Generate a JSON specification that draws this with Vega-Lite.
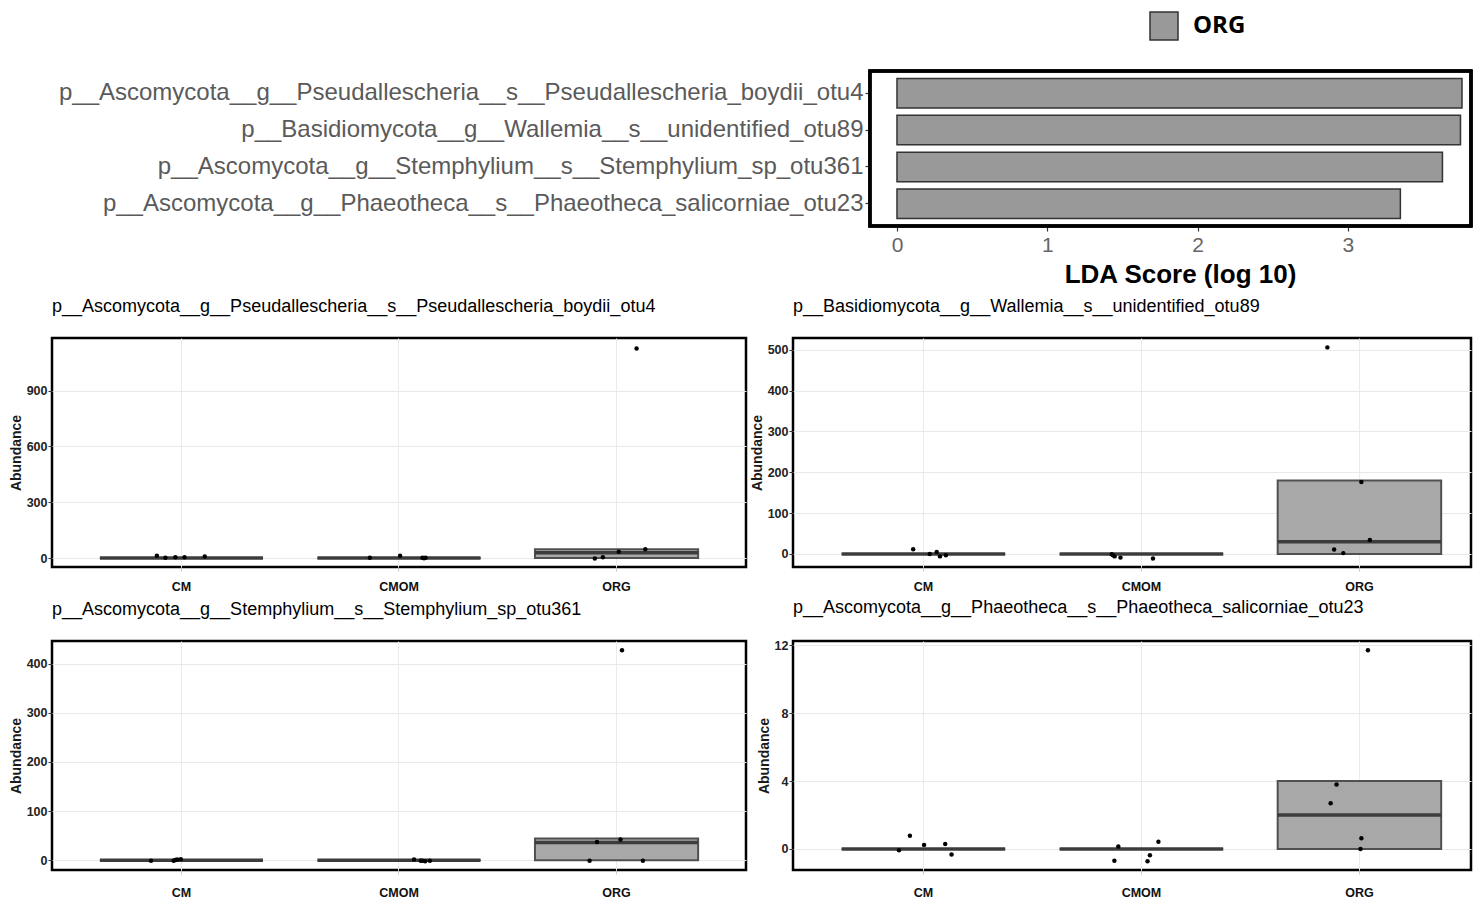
{
  "$schema": "https://vega.github.io/schema/vega-lite/v6.json",
  "background": "white",
  "padding": {"left": 7, "top": 11, "right": 0, "bottom": 0},
  "bounds": "flush",
  "columns": 2,
  "align": "each",
  "spacing": {"row": 74, "column": 47},
  "config": {
    "font": "Liberation Sans",
    "view": {"stroke": "black", "strokeWidth": 2.5}
  },
  "datasets": {
    "lda": [
      {"feature": "p__Ascomycota__g__Pseudallescheria__s__Pseudallescheria_boydii_otu4", "lda": 3.76, "group": "ORG"},
      {"feature": "p__Basidiomycota__g__Wallemia__s__unidentified_otu89", "lda": 3.75, "group": "ORG"},
      {"feature": "p__Ascomycota__g__Stemphylium__s__Stemphylium_sp_otu361", "lda": 3.63, "group": "ORG"},
      {"feature": "p__Ascomycota__g__Phaeotheca__s__Phaeotheca_salicorniae_otu23", "lda": 3.35, "group": "ORG"}
    ],
    "boxes": [
      {"otu": "otu4", "treatment": "CM", "q1": 0, "median": 0, "q3": 0},
      {"otu": "otu4", "treatment": "CMOM", "q1": 0, "median": 0, "q3": 0},
      {"otu": "otu4", "treatment": "ORG", "q1": 0, "median": 28, "q3": 47},
      {"otu": "otu89", "treatment": "CM", "q1": 0, "median": 0, "q3": 0},
      {"otu": "otu89", "treatment": "CMOM", "q1": 0, "median": 0, "q3": 0},
      {"otu": "otu89", "treatment": "ORG", "q1": 0, "median": 30, "q3": 180},
      {"otu": "otu361", "treatment": "CM", "q1": 0, "median": 0, "q3": 0},
      {"otu": "otu361", "treatment": "CMOM", "q1": 0, "median": 0, "q3": 0},
      {"otu": "otu361", "treatment": "ORG", "q1": 0, "median": 36, "q3": 44},
      {"otu": "otu23", "treatment": "CM", "q1": 0, "median": 0, "q3": 0},
      {"otu": "otu23", "treatment": "CMOM", "q1": 0, "median": 0, "q3": 0},
      {"otu": "otu23", "treatment": "ORG", "q1": 0, "median": 2, "q3": 4}
    ],
    "samples": [
      {"otu": "otu4", "treatment": "CM", "jitter": -0.113, "abundance": 12},
      {"otu": "otu4", "treatment": "CM", "jitter": -0.074, "abundance": 2},
      {"otu": "otu4", "treatment": "CM", "jitter": -0.028, "abundance": 4},
      {"otu": "otu4", "treatment": "CM", "jitter": 0.014, "abundance": 5},
      {"otu": "otu4", "treatment": "CM", "jitter": 0.107, "abundance": 9},
      {"otu": "otu4", "treatment": "CMOM", "jitter": -0.134, "abundance": 2},
      {"otu": "otu4", "treatment": "CMOM", "jitter": 0.005, "abundance": 12},
      {"otu": "otu4", "treatment": "CMOM", "jitter": 0.108, "abundance": 2},
      {"otu": "otu4", "treatment": "CMOM", "jitter": 0.115, "abundance": -1},
      {"otu": "otu4", "treatment": "CMOM", "jitter": 0.122, "abundance": 2},
      {"otu": "otu4", "treatment": "ORG", "jitter": -0.1, "abundance": -2},
      {"otu": "otu4", "treatment": "ORG", "jitter": -0.063, "abundance": 4},
      {"otu": "otu4", "treatment": "ORG", "jitter": 0.01, "abundance": 34},
      {"otu": "otu4", "treatment": "ORG", "jitter": 0.132, "abundance": 47},
      {"otu": "otu4", "treatment": "ORG", "jitter": 0.092, "abundance": 1127},
      {"otu": "otu89", "treatment": "CM", "jitter": -0.047, "abundance": 11.5},
      {"otu": "otu89", "treatment": "CM", "jitter": 0.029, "abundance": 0},
      {"otu": "otu89", "treatment": "CM", "jitter": 0.061, "abundance": 5},
      {"otu": "otu89", "treatment": "CM", "jitter": 0.076, "abundance": -6},
      {"otu": "otu89", "treatment": "CM", "jitter": 0.103, "abundance": -3},
      {"otu": "otu89", "treatment": "CMOM", "jitter": -0.136, "abundance": -1},
      {"otu": "otu89", "treatment": "CMOM", "jitter": -0.13, "abundance": -3},
      {"otu": "otu89", "treatment": "CMOM", "jitter": -0.123, "abundance": -6},
      {"otu": "otu89", "treatment": "CMOM", "jitter": -0.096, "abundance": -9},
      {"otu": "otu89", "treatment": "CMOM", "jitter": 0.053, "abundance": -11},
      {"otu": "otu89", "treatment": "ORG", "jitter": -0.147, "abundance": 506},
      {"otu": "otu89", "treatment": "ORG", "jitter": 0.009, "abundance": 176},
      {"otu": "otu89", "treatment": "ORG", "jitter": 0.048, "abundance": 34},
      {"otu": "otu89", "treatment": "ORG", "jitter": -0.116, "abundance": 11},
      {"otu": "otu89", "treatment": "ORG", "jitter": -0.074, "abundance": 2},
      {"otu": "otu361", "treatment": "CM", "jitter": -0.14, "abundance": -1.4},
      {"otu": "otu361", "treatment": "CM", "jitter": -0.036, "abundance": -1},
      {"otu": "otu361", "treatment": "CM", "jitter": -0.028, "abundance": 0.5},
      {"otu": "otu361", "treatment": "CM", "jitter": -0.02, "abundance": 1.4},
      {"otu": "otu361", "treatment": "CM", "jitter": -0.003, "abundance": 2},
      {"otu": "otu361", "treatment": "CMOM", "jitter": 0.069, "abundance": 1.4},
      {"otu": "otu361", "treatment": "CMOM", "jitter": 0.1, "abundance": -1},
      {"otu": "otu361", "treatment": "CMOM", "jitter": 0.107, "abundance": -1},
      {"otu": "otu361", "treatment": "CMOM", "jitter": 0.12, "abundance": -2},
      {"otu": "otu361", "treatment": "CMOM", "jitter": 0.142, "abundance": -1.4},
      {"otu": "otu361", "treatment": "ORG", "jitter": 0.025, "abundance": 427},
      {"otu": "otu361", "treatment": "ORG", "jitter": 0.018, "abundance": 42},
      {"otu": "otu361", "treatment": "ORG", "jitter": -0.09, "abundance": 37},
      {"otu": "otu361", "treatment": "ORG", "jitter": -0.124, "abundance": -1.4},
      {"otu": "otu361", "treatment": "ORG", "jitter": 0.121, "abundance": -1.4},
      {"otu": "otu23", "treatment": "CM", "jitter": -0.112, "abundance": -0.08},
      {"otu": "otu23", "treatment": "CM", "jitter": -0.062, "abundance": 0.78},
      {"otu": "otu23", "treatment": "CM", "jitter": 0.003, "abundance": 0.24},
      {"otu": "otu23", "treatment": "CM", "jitter": 0.1, "abundance": 0.29},
      {"otu": "otu23", "treatment": "CM", "jitter": 0.129, "abundance": -0.33},
      {"otu": "otu23", "treatment": "CMOM", "jitter": -0.106, "abundance": 0.14},
      {"otu": "otu23", "treatment": "CMOM", "jitter": 0.078, "abundance": 0.43},
      {"otu": "otu23", "treatment": "CMOM", "jitter": 0.039, "abundance": -0.37},
      {"otu": "otu23", "treatment": "CMOM", "jitter": -0.124, "abundance": -0.7},
      {"otu": "otu23", "treatment": "CMOM", "jitter": 0.028, "abundance": -0.72},
      {"otu": "otu23", "treatment": "ORG", "jitter": 0.039, "abundance": 11.7},
      {"otu": "otu23", "treatment": "ORG", "jitter": -0.105, "abundance": 3.8},
      {"otu": "otu23", "treatment": "ORG", "jitter": -0.132, "abundance": 2.69},
      {"otu": "otu23", "treatment": "ORG", "jitter": 0.009, "abundance": 0.63},
      {"otu": "otu23", "treatment": "ORG", "jitter": 0.005, "abundance": 0}
    ]
  },
  "concat": [
    {
      "width": 694,
      "height": 193,
      "view": {"stroke": null},
      "data": {"values": []},
      "mark": "point"
    },
    {
      "width": 678,
      "height": 155,
      "view": {"stroke": null},
      "data": {"name": "lda"},
      "layer": [
        {
          "mark": {"type": "bar", "stroke": "#333333", "strokeWidth": 1.5},
          "encoding": {
            "y": {
              "field": "feature", "type": "nominal", "sort": null,
              "scale": {"paddingInner": 0.2, "paddingOuter": 0.2},
              "axis": {
                "title": null, "domain": false, "grid": false, "offset": -77,
                "labelFont": "Liberation Sans", "labelFontSize": 24, "labelColor": "#5a5a5a",
                "labelLimit": 2000, "labelPadding": 2, "tickSize": 5, "tickColor": "#333333", "tickWidth": 1.2
              }
            },
            "x": {
              "field": "lda", "type": "quantitative",
              "scale": {"domain": [-0.692, 3.82], "nice": false, "zero": false},
              "axis": {
                "values": [0, 1, 2, 3], "format": "d", "domain": false, "grid": false,
                "labelFont": "Liberation Sans", "labelFontSize": 21, "labelColor": "#666666", "labelPadding": 3,
                "tickSize": 5, "tickColor": "#333333", "tickWidth": 1.2,
                "title": "LDA Score (log 10)", "titleFont": "Liberation Sans", "titleFontSize": 26,
                "titleFontWeight": "bold", "titleColor": "black", "titlePadding": 6, "titleX": 387, "titleAlign": "center"
              }
            },
            "x2": {"datum": 0},
            "fill": {
              "field": "group", "type": "nominal",
              "scale": {"domain": ["ORG"], "range": ["#999999"]},
              "legend": {
                "orient": "none", "legendX": 1097, "legendY": -60, "title": null, "padding": 0,
                "symbolType": "square", "symbolSize": 784, "symbolStrokeColor": "#333333", "symbolStrokeWidth": 1.5,
                "labelFont": "Open Sans", "labelFontSize": 24, "labelFontWeight": "bold", "labelColor": "black", "labelOffset": 14
              }
            }
          }
        },
        {
          "mark": {"type": "rect", "fill": null, "stroke": "black", "strokeWidth": 3},
          "encoding": {
            "x": {"datum": -0.18, "type": "quantitative"},
            "x2": {"datum": 3.82}
          }
        }
      ]
    },
    {
      "width": 694,
      "height": 229,
      "title": {"text": "p__Ascomycota__g__Pseudallescheria__s__Pseudallescheria_boydii_otu4", "anchor": "start", "frame": "group", "baseline": "alphabetic", "offset": 8, "font": "Liberation Sans", "fontSize": 18, "fontWeight": "normal", "color": "black"},
      "resolve": {"scale": {"x": "independent", "xOffset": "independent"}, "axis": {"x": "independent"}},
      "layer": [
        {
          "data": {"name": "boxes"},
          "transform": [{"filter": "datum.otu === 'otu4'"}],
          "mark": {"type": "bar", "fill": "#a8a8a8", "stroke": "#505050", "strokeWidth": 2},
          "encoding": {
            "x": {"field": "treatment", "type": "nominal", "scale": {"domain": ["CM", "CMOM", "ORG"], "paddingInner": 0.25, "paddingOuter": 0.22, "align": 0.5},
              "axis": {"title": null, "domain": false, "grid": true, "gridColor": "#ebebeb", "bandPosition": 0.5, "labelAngle": 0, "labelFont": "Liberation Sans", "labelFontSize": 12.5, "labelFontWeight": "bold", "labelColor": "#111111", "labelPadding": 9, "tickSize": 4, "tickColor": "#c8c8c8"}},
            "y": {"field": "q1", "type": "quantitative", "scale": {"domain": [-48, 1183], "nice": false, "zero": false},
              "axis": {"title": "Abundance", "titleFont": "Liberation Sans", "titleFontSize": 14, "titleFontWeight": "bold", "titleColor": "#1a1a1a", "titlePadding": 3,
                "values": [0, 150, 300, 450, 600, 750, 900, 1050], "domain": false, "grid": true,
                "gridColor": {"condition": {"test": "datum.value % 300 === 0", "value": "#e9e9e9"}, "value": "#f4f4f4"},
                "labelExpr": "datum.value % 300 === 0 ? datum.label : ''",
                "tickOpacity": {"condition": {"test": "datum.value % 300 === 0", "value": 1}, "value": 0},
                "labelFont": "Liberation Sans", "labelFontSize": 12.5, "labelFontWeight": "bold", "labelColor": "#222222", "labelPadding": 1, "tickSize": 4, "tickColor": "#333333"}},
            "y2": {"field": "q3"}
          }
        },
        {
          "data": {"name": "boxes"},
          "transform": [{"filter": "datum.otu === 'otu4'"}],
          "mark": {"type": "tick", "orient": "horizontal", "size": 163, "thickness": 3.5, "color": "#3c3c3c", "opacity": 1},
          "encoding": {
            "x": {"field": "treatment", "type": "nominal", "axis": null, "scale": {"domain": ["CM", "CMOM", "ORG"], "paddingInner": 0.25, "paddingOuter": 0.22, "align": 0.5}},
            "y": {"field": "median", "type": "quantitative"}
          }
        },
        {
          "data": {"name": "samples"},
          "transform": [{"filter": "datum.otu === 'otu4'"}],
          "mark": {"type": "circle", "size": 20, "color": "black", "opacity": 1},
          "encoding": {
            "x": {"field": "treatment", "type": "nominal", "axis": null, "scale": {"domain": ["CM", "CMOM", "ORG"], "paddingInner": 0.25, "paddingOuter": 0.22, "align": 0.5}},
            "xOffset": {"field": "jitter", "type": "quantitative", "scale": {"domain": [-0.5, 0.5], "range": [-27.2, 190.4]}},
            "y": {"field": "abundance", "type": "quantitative"}
          }
        }
      ]
    },
    {
      "width": 678,
      "height": 229,
      "title": {"text": "p__Basidiomycota__g__Wallemia__s__unidentified_otu89", "anchor": "start", "frame": "group", "baseline": "alphabetic", "offset": 8, "font": "Liberation Sans", "fontSize": 18, "fontWeight": "normal", "color": "black"},
      "resolve": {"scale": {"x": "independent", "xOffset": "independent"}, "axis": {"x": "independent"}},
      "layer": [
        {
          "data": {"name": "boxes"},
          "transform": [{"filter": "datum.otu === 'otu89'"}],
          "mark": {"type": "bar", "fill": "#a8a8a8", "stroke": "#505050", "strokeWidth": 2},
          "encoding": {
            "x": {"field": "treatment", "type": "nominal", "scale": {"domain": ["CM", "CMOM", "ORG"], "paddingInner": 0.25, "paddingOuter": 0.18, "align": 0.62},
              "axis": {"title": null, "domain": false, "grid": true, "gridColor": "#ebebeb", "bandPosition": 0.5, "labelAngle": 0, "labelFont": "Liberation Sans", "labelFontSize": 12.5, "labelFontWeight": "bold", "labelColor": "#111111", "labelPadding": 9, "tickSize": 4, "tickColor": "#c8c8c8"}},
            "y": {"field": "q1", "type": "quantitative", "scale": {"domain": [-32, 529], "nice": false, "zero": false},
              "axis": {"title": "Abundance", "titleFont": "Liberation Sans", "titleFontSize": 14, "titleFontWeight": "bold", "titleColor": "#1a1a1a", "titlePadding": 3,
                "values": [0, 50, 100, 150, 200, 250, 300, 350, 400, 450, 500], "domain": false, "grid": true,
                "gridColor": {"condition": {"test": "datum.value % 100 === 0", "value": "#e9e9e9"}, "value": "#f4f4f4"},
                "labelExpr": "datum.value % 100 === 0 ? datum.label : ''",
                "tickOpacity": {"condition": {"test": "datum.value % 100 === 0", "value": 1}, "value": 0},
                "labelFont": "Liberation Sans", "labelFontSize": 12.5, "labelFontWeight": "bold", "labelColor": "#222222", "labelPadding": 1, "tickSize": 4, "tickColor": "#333333"}},
            "y2": {"field": "q3"}
          }
        },
        {
          "data": {"name": "boxes"},
          "transform": [{"filter": "datum.otu === 'otu89'"}],
          "mark": {"type": "tick", "orient": "horizontal", "size": 163.5, "thickness": 3.5, "color": "#3c3c3c", "opacity": 1},
          "encoding": {
            "x": {"field": "treatment", "type": "nominal", "axis": null, "scale": {"domain": ["CM", "CMOM", "ORG"], "paddingInner": 0.25, "paddingOuter": 0.18, "align": 0.62}},
            "y": {"field": "median", "type": "quantitative"}
          }
        },
        {
          "data": {"name": "samples"},
          "transform": [{"filter": "datum.otu === 'otu89'"}],
          "mark": {"type": "circle", "size": 20, "color": "black", "opacity": 1},
          "encoding": {
            "x": {"field": "treatment", "type": "nominal", "axis": null, "scale": {"domain": ["CM", "CMOM", "ORG"], "paddingInner": 0.25, "paddingOuter": 0.18, "align": 0.62}},
            "xOffset": {"field": "jitter", "type": "quantitative", "scale": {"domain": [-0.5, 0.5], "range": [-27.25, 190.75]}},
            "y": {"field": "abundance", "type": "quantitative"}
          }
        }
      ]
    },
    {
      "width": 694,
      "height": 229,
      "title": {"text": "p__Ascomycota__g__Stemphylium__s__Stemphylium_sp_otu361", "anchor": "start", "frame": "group", "baseline": "alphabetic", "offset": 8, "font": "Liberation Sans", "fontSize": 18, "fontWeight": "normal", "color": "black"},
      "resolve": {"scale": {"x": "independent", "xOffset": "independent"}, "axis": {"x": "independent"}},
      "layer": [
        {
          "data": {"name": "boxes"},
          "transform": [{"filter": "datum.otu === 'otu361'"}],
          "mark": {"type": "bar", "fill": "#a8a8a8", "stroke": "#505050", "strokeWidth": 2},
          "encoding": {
            "x": {"field": "treatment", "type": "nominal", "scale": {"domain": ["CM", "CMOM", "ORG"], "paddingInner": 0.25, "paddingOuter": 0.22, "align": 0.5},
              "axis": {"title": null, "domain": false, "grid": true, "gridColor": "#ebebeb", "bandPosition": 0.5, "labelAngle": 0, "labelFont": "Liberation Sans", "labelFontSize": 12.5, "labelFontWeight": "bold", "labelColor": "#111111", "labelPadding": 12, "tickSize": 4, "tickColor": "#c8c8c8"}},
            "y": {"field": "q1", "type": "quantitative", "scale": {"domain": [-20, 446], "nice": false, "zero": false},
              "axis": {"title": "Abundance", "titleFont": "Liberation Sans", "titleFontSize": 14, "titleFontWeight": "bold", "titleColor": "#1a1a1a", "titlePadding": 3,
                "values": [0, 50, 100, 150, 200, 250, 300, 350, 400], "domain": false, "grid": true,
                "gridColor": {"condition": {"test": "datum.value % 100 === 0", "value": "#e9e9e9"}, "value": "#f4f4f4"},
                "labelExpr": "datum.value % 100 === 0 ? datum.label : ''",
                "tickOpacity": {"condition": {"test": "datum.value % 100 === 0", "value": 1}, "value": 0},
                "labelFont": "Liberation Sans", "labelFontSize": 12.5, "labelFontWeight": "bold", "labelColor": "#222222", "labelPadding": 1, "tickSize": 4, "tickColor": "#333333"}},
            "y2": {"field": "q3"}
          }
        },
        {
          "data": {"name": "boxes"},
          "transform": [{"filter": "datum.otu === 'otu361'"}],
          "mark": {"type": "tick", "orient": "horizontal", "size": 163, "thickness": 3.5, "color": "#3c3c3c", "opacity": 1},
          "encoding": {
            "x": {"field": "treatment", "type": "nominal", "axis": null, "scale": {"domain": ["CM", "CMOM", "ORG"], "paddingInner": 0.25, "paddingOuter": 0.22, "align": 0.5}},
            "y": {"field": "median", "type": "quantitative"}
          }
        },
        {
          "data": {"name": "samples"},
          "transform": [{"filter": "datum.otu === 'otu361'"}],
          "mark": {"type": "circle", "size": 20, "color": "black", "opacity": 1},
          "encoding": {
            "x": {"field": "treatment", "type": "nominal", "axis": null, "scale": {"domain": ["CM", "CMOM", "ORG"], "paddingInner": 0.25, "paddingOuter": 0.22, "align": 0.5}},
            "xOffset": {"field": "jitter", "type": "quantitative", "scale": {"domain": [-0.5, 0.5], "range": [-27.2, 190.4]}},
            "y": {"field": "abundance", "type": "quantitative"}
          }
        }
      ]
    },
    {
      "width": 678,
      "height": 229,
      "title": {"text": "p__Ascomycota__g__Phaeotheca__s__Phaeotheca_salicorniae_otu23", "anchor": "start", "frame": "group", "baseline": "alphabetic", "offset": 8, "font": "Liberation Sans", "fontSize": 18, "fontWeight": "normal", "color": "black"},
      "resolve": {"scale": {"x": "independent", "xOffset": "independent"}, "axis": {"x": "independent"}},
      "layer": [
        {
          "data": {"name": "boxes"},
          "transform": [{"filter": "datum.otu === 'otu23'"}],
          "mark": {"type": "bar", "fill": "#a8a8a8", "stroke": "#505050", "strokeWidth": 2},
          "encoding": {
            "x": {"field": "treatment", "type": "nominal", "scale": {"domain": ["CM", "CMOM", "ORG"], "paddingInner": 0.25, "paddingOuter": 0.18, "align": 0.62},
              "axis": {"title": null, "domain": false, "grid": true, "gridColor": "#ebebeb", "bandPosition": 0.5, "labelAngle": 0, "labelFont": "Liberation Sans", "labelFontSize": 12.5, "labelFontWeight": "bold", "labelColor": "#111111", "labelPadding": 12, "tickSize": 4, "tickColor": "#c8c8c8"}},
            "y": {"field": "q1", "type": "quantitative", "scale": {"domain": [-1.24, 12.25], "nice": false, "zero": false},
              "axis": {"title": "Abundance", "titleFont": "Liberation Sans", "titleFontSize": 14, "titleFontWeight": "bold", "titleColor": "#1a1a1a", "titlePadding": 3,
                "values": [0, 2, 4, 6, 8, 10, 12], "domain": false, "grid": true,
                "gridColor": {"condition": {"test": "datum.value % 4 === 0", "value": "#e9e9e9"}, "value": "#f4f4f4"},
                "labelExpr": "datum.value % 4 === 0 ? datum.label : ''",
                "tickOpacity": {"condition": {"test": "datum.value % 4 === 0", "value": 1}, "value": 0},
                "labelFont": "Liberation Sans", "labelFontSize": 12.5, "labelFontWeight": "bold", "labelColor": "#222222", "labelPadding": 1, "tickSize": 4, "tickColor": "#333333"}},
            "y2": {"field": "q3"}
          }
        },
        {
          "data": {"name": "boxes"},
          "transform": [{"filter": "datum.otu === 'otu23'"}],
          "mark": {"type": "tick", "orient": "horizontal", "size": 163.5, "thickness": 3.5, "color": "#3c3c3c", "opacity": 1},
          "encoding": {
            "x": {"field": "treatment", "type": "nominal", "axis": null, "scale": {"domain": ["CM", "CMOM", "ORG"], "paddingInner": 0.25, "paddingOuter": 0.18, "align": 0.62}},
            "y": {"field": "median", "type": "quantitative"}
          }
        },
        {
          "data": {"name": "samples"},
          "transform": [{"filter": "datum.otu === 'otu23'"}],
          "mark": {"type": "circle", "size": 20, "color": "black", "opacity": 1},
          "encoding": {
            "x": {"field": "treatment", "type": "nominal", "axis": null, "scale": {"domain": ["CM", "CMOM", "ORG"], "paddingInner": 0.25, "paddingOuter": 0.18, "align": 0.62}},
            "xOffset": {"field": "jitter", "type": "quantitative", "scale": {"domain": [-0.5, 0.5], "range": [-27.25, 190.75]}},
            "y": {"field": "abundance", "type": "quantitative"}
          }
        }
      ]
    }
  ]
}
